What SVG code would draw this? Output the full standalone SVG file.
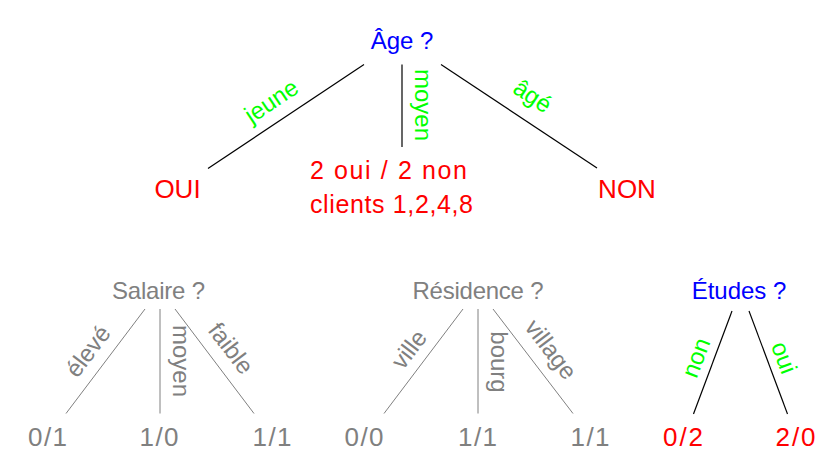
<svg xmlns="http://www.w3.org/2000/svg" width="832" height="462" viewBox="0 0 832 462">
  <style>
    text { font-family: "Liberation Sans", Arial, sans-serif; text-anchor: middle; }
    .q { fill: #0000ff; font-size: 24px; }
    .res { fill: #ff0000; }
    .big { font-size: 26px; }
    .mid { font-size: 25px; }
    .gq { fill: #808080; font-size: 24px; }
    .leaf { font-size: 26px; }
    .grey { fill: #808080; }
    .lab { font-size: 24px; fill: #00ff00; }
    .glab { font-size: 24px; fill: #808080; }
    .edge { stroke: #000000; stroke-width: 1.2; fill: none; }
    .gedge { stroke: #808080; stroke-width: 1; fill: none; }
  </style>

  <!-- connectors and their labels -->
  <g id="connectors">
    <line class="edge" x1="364" y1="64.5" x2="208" y2="168.5"/>
    <line class="edge" x1="402" y1="64.5" x2="402" y2="147"/>
    <line class="edge" x1="441" y1="64.5" x2="597" y2="168"/>

    <line class="gedge" x1="145" y1="309" x2="66" y2="413.5"/>
    <line class="gedge" x1="160" y1="309" x2="160" y2="413.5"/>
    <line class="gedge" x1="175" y1="309" x2="254" y2="413.5"/>

    <line class="gedge" x1="463" y1="309" x2="384" y2="413.5"/>
    <line class="gedge" x1="478" y1="309" x2="478" y2="413.5"/>
    <line class="gedge" x1="493" y1="309" x2="573" y2="413.5"/>

    <line class="edge" x1="732" y1="311" x2="693.5" y2="414"/>
    <line class="edge" x1="749" y1="311" x2="787.5" y2="414"/>

    <text class="lab" transform="translate(272,102) rotate(-33.7)" y="7">jeune</text>
    <text class="lab" transform="translate(422,105) rotate(90)" y="7">moyen</text>
    <text class="lab" transform="translate(532,97) rotate(33.7)" y="7">âgé</text>

    <text class="glab" transform="translate(89,352) rotate(-52.8)" y="7">élevé</text>
    <text class="glab" transform="translate(180,361) rotate(90)" y="7">moyen</text>
    <text class="glab" transform="translate(230,349) rotate(52.8)" y="7">faible</text>

    <text class="glab" transform="translate(410,350) rotate(-52.8)" y="7">ville</text>
    <text class="glab" transform="translate(498,362) rotate(90)" y="7">bourg</text>
    <text class="glab" transform="translate(550,350) rotate(52.8)" y="7">village</text>

    <text class="lab" transform="translate(697,358) rotate(-69.3)" y="7">non</text>
    <text class="lab" transform="translate(783,358) rotate(69.3)" y="7">oui</text>
  </g>

  <!-- root question -->
  <g id="node-age">
    <text class="q" x="402" y="49">Âge ?</text>
  </g>

  <!-- first level outcomes -->
  <g id="node-oui">
    <text class="res big" x="177.5" y="197.5">OUI</text>
  </g>
  <g id="node-moyen">
    <text class="res mid" x="388.5" y="179" textLength="157" lengthAdjust="spacing">2 oui / 2 non</text>
    <text class="res mid" x="391.5" y="213" textLength="163" lengthAdjust="spacing">clients 1,2,4,8</text>
  </g>
  <g id="node-non">
    <text class="res big" x="627" y="197.5">NON</text>
  </g>

  <!-- candidate splits for the middle branch -->
  <g id="node-salaire">
    <text class="gq" x="158.5" y="299" textLength="93" lengthAdjust="spacing">Salaire ?</text>
  </g>
  <g id="leaf-salaire-eleve"><text class="leaf grey" x="47.5" y="446" textLength="39" lengthAdjust="spacing">0/1</text></g>
  <g id="leaf-salaire-moyen"><text class="leaf grey" x="159" y="446" textLength="39" lengthAdjust="spacing">1/0</text></g>
  <g id="leaf-salaire-faible"><text class="leaf grey" x="272" y="446" textLength="39" lengthAdjust="spacing">1/1</text></g>

  <g id="node-residence">
    <text class="gq" x="478" y="299" textLength="131" lengthAdjust="spacing">Résidence ?</text>
  </g>
  <g id="leaf-residence-ville"><text class="leaf grey" x="364" y="446" textLength="39" lengthAdjust="spacing">0/0</text></g>
  <g id="leaf-residence-bourg"><text class="leaf grey" x="477.5" y="446" textLength="39" lengthAdjust="spacing">1/1</text></g>
  <g id="leaf-residence-village"><text class="leaf grey" x="590" y="446" textLength="39" lengthAdjust="spacing">1/1</text></g>

  <g id="node-etudes">
    <text class="q" x="739" y="299">Études ?</text>
  </g>
  <g id="leaf-etudes-non"><text class="leaf res" x="683" y="446" textLength="40" lengthAdjust="spacing">0/2</text></g>
  <g id="leaf-etudes-oui"><text class="leaf res" x="795.5" y="446" textLength="40" lengthAdjust="spacing">2/0</text></g>
</svg>
